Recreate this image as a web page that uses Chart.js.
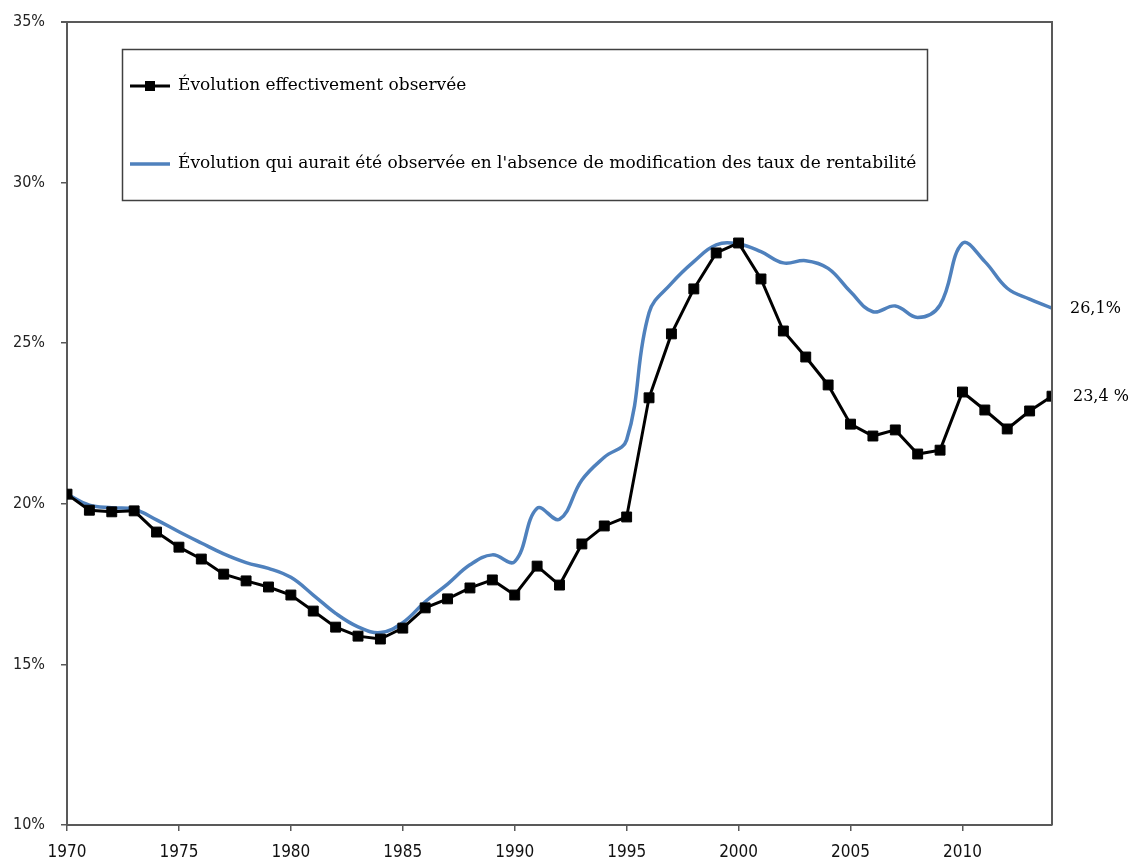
<!DOCTYPE html>
<html>
<head>
<meta charset="utf-8">
<script src="https://cdn.jsdelivr.net/npm/chart.js@4.4.0/dist/chart.umd.min.js"></script>
<style>
    html, body { margin: 0; padding: 0; background: #fff; }
    #wrap { width: 1129px; height: 857px; }
</style>
</head>
<body>
<div id="wrap"><canvas id="rateChart" width="1129" height="857"></canvas></div>
<script>
// Years and series values (percent)
const years = [
    1970, 1971, 1972, 1973, 1974, 1975, 1976, 1977, 1978, 1979,
    1980, 1981, 1982, 1983, 1984, 1985, 1986, 1987, 1988, 1989,
    1990, 1991, 1992, 1993, 1994, 1995, 1996, 1997, 1998, 1999,
    2000, 2001, 2002, 2003, 2004, 2005, 2006, 2007, 2008, 2009,
    2010, 2011, 2012, 2013, 2014
];
const observed = [
    20.3, 19.8, 19.75, 19.78, 19.12, 18.65, 18.28, 17.81, 17.6, 17.41,
    17.16, 16.66, 16.16, 15.88, 15.79, 16.13, 16.76, 17.04, 17.38, 17.63,
    17.16, 18.06, 17.47, 18.75, 19.31, 19.59, 23.3, 25.29, 26.69, 27.81,
    28.12, 27.0, 25.38, 24.57, 23.7, 22.48, 22.11, 22.3, 21.55, 21.67,
    23.48, 22.92, 22.33, 22.89, 23.35
];
const withoutChange = [
    20.3, 19.96, 19.88, 19.83, 19.5, 19.13, 18.78, 18.44, 18.17, 17.99,
    17.71, 17.16, 16.59, 16.17, 15.99, 16.3, 16.95, 17.5, 18.1, 18.41,
    18.2, 19.86, 19.52, 20.74, 21.45, 21.99, 25.95, 26.86, 27.54, 28.06,
    28.09, 27.85, 27.5, 27.57, 27.33, 26.6, 25.98, 26.16, 25.8, 26.19,
    28.11, 27.54, 26.71, 26.37, 26.09
];
const seriesNames = [
    'Évolution effectivement observée',
    "Évolution qui aurait été observée en l'absence de modification des taux de rentabilité"
];
const endLabels = ['23,4 %', '26,1%'];
const yTicks = [10, 15, 20, 25, 30, 35];

const axisColor = '#595959';
const blue = '#4F81BD';
const serifFont = '"DejaVu Serif", "Liberation Serif", serif';
const sansCond = '"DejaVu Sans Condensed", "DejaVu Sans", sans-serif';

function toPoints(values) {
    return years.map((y, i) => ({ x: y, y: values[i] }));
}

// frame around the plot, boxed legend and end-of-line labels
const decorPlugin = {
    id: 'decor',
    afterDraw(chart) {
        const ctx = chart.ctx;
        const a = chart.chartArea;
        ctx.save();
        ctx.strokeStyle = axisColor;
        ctx.lineWidth = 2;
        ctx.beginPath();
        ctx.moveTo(a.left - 6, a.top);
        ctx.lineTo(a.right, a.top);
        ctx.lineTo(a.right, a.bottom);
        ctx.stroke();

        // legend box
        ctx.lineWidth = 1.5;
        ctx.strokeStyle = '#404040';
        ctx.strokeRect(122.5, 49.5, 805, 151);

        ctx.font = '17px ' + serifFont;
        ctx.fillStyle = '#000';
        ctx.textBaseline = 'middle';
        ctx.textAlign = 'left';

        // entry 1: black line with square marker
        ctx.strokeStyle = '#000';
        ctx.lineWidth = 3;
        ctx.beginPath();
        ctx.moveTo(130, 86);
        ctx.lineTo(170, 86);
        ctx.stroke();
        ctx.fillRect(145, 81, 10, 10);
        ctx.fillText(seriesNames[0], 178, 86);

        // entry 2: blue line
        ctx.strokeStyle = blue;
        ctx.lineWidth = 3.5;
        ctx.beginPath();
        ctx.moveTo(130, 164);
        ctx.lineTo(170, 164);
        ctx.stroke();
        ctx.fillText(seriesNames[1], 178, 164);

        // labels at the end of each line
        ctx.font = '16px ' + serifFont;
        chart.data.datasets.forEach((ds, i) => {
            const pts = chart.getDatasetMeta(i).data;
            const last = pts[pts.length - 1];
            ctx.fillText(endLabels[i], last.x + (i === 0 ? 21 : 18), last.y + 1);
        });
        ctx.restore();
    }
};

function initRateChart() {
    const ctx = document.getElementById('rateChart').getContext('2d');

    new Chart(ctx, {
        type: 'line',
        data: {
            datasets: [{
                label: seriesNames[0],
                data: toPoints(observed),
                borderColor: '#000',
                backgroundColor: '#000',
                borderWidth: 3,
                pointStyle: 'rect',
                pointRadius: 7,
                pointBorderWidth: 1,
                tension: 0
            }, {
                label: seriesNames[1],
                data: toPoints(withoutChange),
                borderColor: blue,
                borderWidth: 3.5,
                pointRadius: 0,
                tension: 0.4
            }]
        },
        options: {
            responsive: false,
            animation: false,
            layout: {
                padding: { top: 22, right: 77, left: 0, bottom: 0 }
            },
            plugins: {
                legend: { display: false },
                tooltip: { enabled: false }
            },
            scales: {
                x: {
                    type: 'linear',
                    min: 1970,
                    max: 2014,
                    afterFit: function(scale) {
                        scale.height = 32;
                        scale.paddingLeft = 0;
                        scale.paddingRight = 0;
                    },
                    afterBuildTicks: function(scale) {
                        scale.ticks = years.filter(y => y % 5 === 0).map(v => ({ value: v }));
                    },
                    ticks: {
                        callback: function(value) { return String(value); },
                        font: { family: sansCond, size: 17 },
                        color: '#111',
                        padding: 11,
                        maxRotation: 0
                    },
                    grid: {
                        drawOnChartArea: false,
                        drawTicks: true,
                        tickLength: 6,
                        color: axisColor,
                        lineWidth: 1.5
                    },
                    border: { color: axisColor, width: 2 }
                },
                y: {
                    min: 10,
                    max: 35,
                    afterFit: function(scale) {
                        scale.width = 67;
                        scale.paddingTop = 0;
                        scale.paddingBottom = 0;
                    },
                    afterBuildTicks: function(scale) {
                        scale.ticks = yTicks.map(v => ({ value: v }));
                    },
                    ticks: {
                        callback: function(value) { return value + '%'; },
                        font: { family: sansCond, size: 16 },
                        color: '#222',
                        padding: 16
                    },
                    grid: {
                        drawOnChartArea: false,
                        drawTicks: true,
                        tickLength: 6,
                        color: axisColor,
                        lineWidth: 1.5
                    },
                    border: { color: axisColor, width: 2 }
                }
            }
        },
        plugins: [decorPlugin]
    });
}

document.addEventListener('DOMContentLoaded', function() {
    initRateChart();
});
</script>
</body>
</html>
